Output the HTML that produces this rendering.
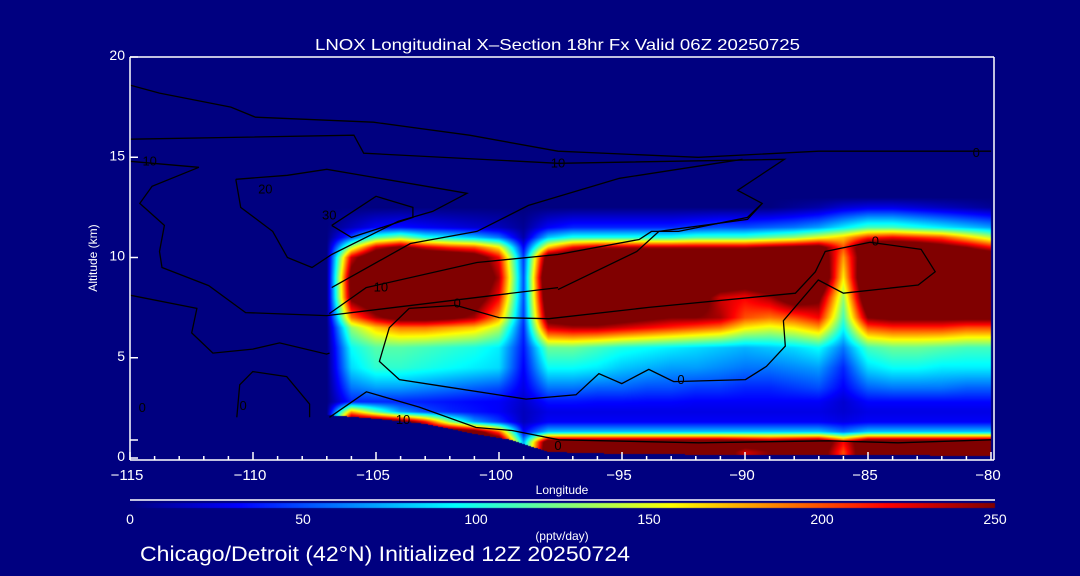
<!DOCTYPE html>
<html><head><meta charset="utf-8"><style>
html,body{margin:0;padding:0;background:rgb(0,0,128);width:1080px;height:576px;overflow:hidden}
#wrap{position:relative;width:1080px;height:576px}
canvas,svg{position:absolute;left:0;top:0}
text{font-family:"Liberation Sans",sans-serif;fill:#fff}
</style></head><body>
<div id="wrap">
<canvas id="cv" width="1080" height="576"></canvas>
<svg id="sv" width="1080" height="576">
<text x="315" y="50" font-size="16" textLength="485" lengthAdjust="spacingAndGlyphs">LNOX Longitudinal X–Section 18hr  Fx Valid 06Z 20250725</text>
<text x="562" y="494" font-size="12" text-anchor="middle">Longitude</text>
<text x="97" y="258" font-size="12" text-anchor="middle" transform="rotate(-90 97 258)">Altitude (km)</text>
<text x="562" y="540" font-size="12" text-anchor="middle">(pptv/day)</text>
<text x="140" y="561" font-size="21" textLength="490" lengthAdjust="spacingAndGlyphs">Chicago/Detroit (42°N) Initialized 12Z 20250724</text>
<g id="contours"></g>
<g id="axes"></g>
<g id="cbar"></g>
</svg>
</div>
<script>
// ---- data ----
const gridLons=[-107,-106,-105,-104,-103,-102,-101,-100,-99,-98,-97,-96,-95,-94,-93,-92,-91,-90,-89,-88,-87,-86,-85,-84,-83,-82,-81,-80];
const gridAlts=[0.3,0.8,1.3,1.8,2.3,2.8,3.5,4.5,5.5,6.5,7,8,9,10,10.5,11,11.5,12.5,13];
const row0_3=[0,300,300,300,300,300,300,300,90,300,300,300,300,300,300,300,280,230,250,280,280,200,300,300,300,300,300,300];
const row0_8=[0,300,300,300,300,300,300,300,70,290,290,290,290,290,290,290,290,280,270,280,290,220,290,290,290,290,290,290];
const row1_3=[0,300,300,300,300,300,280,200,30,80,80,80,80,80,80,80,80,80,80,80,80,60,80,80,80,80,80,80];
const row1_8=[0,300,300,280,220,130,70,45,15,30,30,30,30,30,30,30,30,30,30,30,30,25,30,30,30,30,30,30];
const row2_3=[0,180,120,70,50,40,35,30,15,25,25,25,25,25,25,25,25,25,25,25,25,20,25,25,25,25,25,25];
const row2_8=[0,40,40,40,38,35,32,30,18,35,35,33,33,32,32,30,30,30,30,30,30,20,32,32,32,32,32,32];
const row3_5=[0,60,70,70,65,60,55,50,25,60,60,55,55,50,50,45,45,40,40,45,50,30,55,60,60,60,55,55];
const row4_5=[0,85,105,105,100,95,90,85,30,95,95,90,80,75,70,70,65,60,60,65,70,40,85,95,95,90,90,90];
const row5_5=[0,95,115,115,110,105,100,90,35,120,120,110,100,95,90,85,80,75,80,85,95,60,110,120,120,115,110,110];
const row6_5=[0,130,170,190,190,180,170,140,40,230,240,240,230,220,210,200,190,160,150,160,180,95,200,210,210,210,200,200];
const row7=[0,190,240,270,270,260,240,180,45,270,280,280,270,260,250,250,240,200,190,200,220,110,250,260,260,260,260,260];
const row8=[0,260,300,300,300,300,280,220,50,300,300,300,300,300,300,280,230,220,240,280,260,130,300,300,300,300,300,300];
const row9=[0,270,320,320,320,320,300,240,50,320,320,320,320,320,320,320,300,290,300,320,320,160,320,320,320,320,320,320];
const row10=[0,230,300,300,300,300,280,220,45,280,300,300,300,300,300,300,300,300,300,300,300,180,300,300,300,300,300,300];
const row10_5=[0,140,230,260,230,210,200,160,30,170,220,240,240,240,240,240,240,240,250,260,270,200,300,300,290,270,250,220];
const row11=[0,50,110,130,100,90,80,60,10,80,100,100,100,100,100,110,110,110,120,130,150,170,210,220,210,200,170,140];
const row11_5=[0,15,30,35,30,25,20,15,5,30,40,40,40,40,40,45,50,50,55,60,70,90,110,110,100,90,80,70];
const row12_5=[0,0,0,0,0,0,0,0,0,0,0,0,0,0,0,0,0,0,0,5,10,20,25,25,20,15,10,5];
const row13=[0,0,0,0,0,0,0,0,0,0,0,0,0,0,0,0,0,0,0,0,0,0,0,0,0,0,0,0];
const rows=[row0_3,row0_8,row1_3,row1_8,row2_3,row2_8,row3_5,row4_5,row5_5,row6_5,row7,row8,row9,row10,row10_5,row11,row11_5,row12_5,row13];
const terrainLon=[-107,-105,-103,-101,-99.5,-99,-98,-95,-90,-85,-80];
const terrainAlt=[2.15,1.95,1.7,1.2,0.9,0.7,0.3,0.2,0.15,0.15,0.1];
const xTicks=[-115,-110,-105,-100,-95,-90,-85,-80];
const yTicks=[0,5,10,15,20];
const cbTicks=[0,50,100,150,200,250];
// contours: lon / alt arrays
const cA_lon=[-115,-113.8,-110.9,-109.9,-105.1,-101.2,-97.6,-91.9,-87.0,-80];
const cA_alt=[18.6,18.2,17.5,17.0,16.75,16.1,15.3,15.0,15.3,15.3];
const cB_lon=[-115,-105.9,-105.5,-97.6,-88.4,-90.3,-89.3,-89.9,-93.5,-94.4,-97.6];
const cB_alt=[15.9,16.1,15.2,14.7,14.9,13.35,12.7,11.9,11.3,10.3,8.4];
const cC_lon=[-115,-112.2,-114.1,-114.6,-113.6,-113.8,-113.7,-111.8,-110.3,-107.0,-97.6];
const cC_alt=[14.8,14.5,13.55,12.7,11.6,10.3,9.5,8.6,7.25,7.1,8.5];
const cD_lon=[-110.7,-108.6,-107.0,-102.0,-101.3,-102.7,-104.1,-106.8,-107.6,-108.6,-109.2,-110.5,-110.7];
const cD_alt=[13.9,14.1,14.4,13.35,13.2,12.3,11.8,10.15,9.5,10.0,11.3,12.5,13.9];
const cE_lon=[-106.8,-105.0,-103.5,-103.5,-106.0,-106.8];
const cE_alt=[11.6,13.05,12.5,12.0,11.0,11.6];
const cF_lon=[-106.8,-103.6,-100.9,-98.8,-95.1,-90.1];
const cF_alt=[8.5,10.7,11.3,12.6,13.95,14.9];
const cG_lon=[-106.9,-105.4,-100.9,-97.6,-94.3,-93.8,-92.7,-89.9,-89.3];
const cG_alt=[7.2,8.5,9.75,10.15,10.9,11.3,11.3,12.0,12.7];
const cH_lon=[-103.65,-101.74,-100.0,-97.97,-93.91,-87.95,-87.14,-86.74,-84.91,-82.84,-82.27,-82.96,-86.0,-87.02,-88.44,-88.36,-89.13,-89.98,-92.9,-93.91,-95.01,-95.94,-96.87,-98.9,-102.15,-104.05,-104.86,-104.46,-103.65];
const cH_alt=[7.46,7.61,7.0,6.95,7.51,8.22,9.29,10.3,10.76,10.41,9.29,8.63,8.22,8.88,6.85,5.58,4.57,3.91,3.81,4.42,3.71,4.21,3.15,2.94,3.55,3.91,4.82,6.5,7.46];
const cJ_lon=[-106.89,-105.39,-103.24,-100.93,-99.47,-97.56,-91.89,-86.61,-83.78,-80];
const cJ_alt=[2.03,3.3,2.54,1.52,1.37,0.91,0.76,0.86,0.76,0.91];
const cK_lon=[-110.66,-110.54,-110.01,-108.63,-107.70,-107.70];
const cK_alt=[2.03,3.65,4.31,4.06,2.69,2.03];
const cM_lon=[-115,-112.28,-112.49,-111.63,-110.01,-108.92,-107.01,-106.89];
const cM_alt=[8.12,7.46,6.24,5.23,5.43,5.74,5.18,5.23];
const cLabels=["10","20","30","10","0","10","0","0","0","0","10","0","0"];
const cLabLon=[-114.2,-109.5,-106.9,-104.8,-101.7,-103.9,-97.6,-92.6,-84.7,-80.6,-97.6,-114.5,-110.4];
const cLabAlt=[14.8,13.4,12.1,8.5,7.7,1.9,0.6,3.9,10.8,15.2,14.7,2.5,2.6];

// ---- axes ----
const X0=130,X1=991,Y0=458,Y1=57;
function xS(lon){return X0+(lon+115)/35*(X1-X0);}
function yS(alt){return Y0-(alt/20)*(Y0-Y1);}
function jet(v){let t=Math.max(0,Math.min(1,v/250));
 function c(x){return Math.max(0,Math.min(1,x));}
 const r=c(Math.min(4*t-1.5,-4*t+4.5)),g=c(Math.min(4*t-0.5,-4*t+3.5)),b=c(Math.min(4*t+0.5,-4*t+2.5));
 return [Math.round(r*255),Math.round(g*255),Math.round(b*255)];}
function interp(lon,alt){
 if(lon<=gridLons[0]||lon>gridLons[gridLons.length-1]+0.5)return 0;
 let i=Math.floor(lon-gridLons[0]);if(i>=gridLons.length-1)i=gridLons.length-2;
 let fx=Math.min(1,(lon-gridLons[i])/(gridLons[i+1]-gridLons[i]));
 let a=Math.max(gridAlts[0],Math.min(alt,gridAlts[gridAlts.length-1]));
 if(alt>gridAlts[gridAlts.length-1])return 0;
 let j=0;while(j<gridAlts.length-2&&a>gridAlts[j+1])j++;
 let fy=(a-gridAlts[j])/(gridAlts[j+1]-gridAlts[j]);
 const v00=rows[j][i],v10=rows[j][i+1],v01=rows[j+1][i],v11=rows[j+1][i+1];
 return (v00*(1-fx)+v10*fx)*(1-fy)+(v01*(1-fx)+v11*fx)*fy;}
function ground(lon){
 if(lon<terrainLon[0])return 99;
 for(let k=0;k<terrainLon.length-1;k++){if(lon<=terrainLon[k+1]){const f=(lon-terrainLon[k])/(terrainLon[k+1]-terrainLon[k]);return terrainAlt[k]*(1-f)+terrainAlt[k+1]*f;}}
 return terrainAlt[terrainAlt.length-1];}
const cv=document.getElementById('cv'),ctx=cv.getContext('2d');
ctx.fillStyle='rgb(0,0,128)';ctx.fillRect(0,0,1080,576);
const img=ctx.getImageData(0,0,1080,576),d=img.data;
for(let px=X0;px<X1;px++){const lon=-115+(px+0.5-X0)/(X1-X0)*35;const g=ground(lon);
 for(let py=Y1;py<Y0;py++){const alt=(Y0-(py+0.5))/(Y0-Y1)*20;
  let v=alt<g?0:interp(lon,alt);const c=jet(v);const o=(py*1080+px)*4;d[o]=c[0];d[o+1]=c[1];d[o+2]=c[2];d[o+3]=255;}}
// colorbar
for(let px=130;px<995;px++){const c=jet((px-130)/(995-130)*250);for(let py=503;py<508;py++){const o=(py*1080+px)*4;d[o]=c[0];d[o+1]=c[1];d[o+2]=c[2];}}
ctx.putImageData(img,0,0);

const NS='http://www.w3.org/2000/svg';
const cg=document.getElementById('contours');
const contourLon=[cA_lon,cB_lon,cC_lon,cD_lon,cE_lon,cF_lon,cG_lon,cH_lon,cJ_lon,cK_lon,cM_lon];
const contourAlt=[cA_alt,cB_alt,cC_alt,cD_alt,cE_alt,cF_alt,cG_alt,cH_alt,cJ_alt,cK_alt,cM_alt];
contourLon.forEach((L,k)=>{const p=document.createElementNS(NS,'polyline');
 p.setAttribute('points',L.map((lo,m)=>xS(lo).toFixed(1)+','+yS(contourAlt[k][m]).toFixed(1)).join(' '));
 p.setAttribute('fill','none');p.setAttribute('stroke','#000');p.setAttribute('stroke-width','1.3');
 
 
 cg.appendChild(p);});
cLabels.forEach((s,k)=>{const t=document.createElementNS(NS,'text');
 t.setAttribute('x',xS(cLabLon[k]));t.setAttribute('y',yS(cLabAlt[k])+4);t.setAttribute('font-size','13');
 t.setAttribute('text-anchor','middle');t.style.fill='#000';t.textContent=s;
 
 
 cg.appendChild(t);});

const ag=document.getElementById('axes');
function line(x1,y1,x2,y2,g,name){const l=document.createElementNS(NS,'line');l.setAttribute('x1',x1);l.setAttribute('y1',y1);l.setAttribute('x2',x2);l.setAttribute('y2',y2);l.setAttribute('stroke','#fff');l.setAttribute('stroke-width','1.5');
 
 
 g.appendChild(l);}
line(130,460,994,460,ag,'x-axis-line');
line(130,57,994,57,ag,'top-frame-line');
line(994,57,994,460,ag,'right-frame-line');
line(130,57,130,460,ag,'y-axis-line');
for(let lo=-115;lo<=-80;lo++){const major=xTicks.indexOf(lo)>=0;line(xS(lo),460,xS(lo),major?452:456,ag,'x-tick');}
xTicks.forEach(lo=>{const t=document.createElementNS(NS,'text');t.setAttribute('x',xS(lo)-3);t.setAttribute('y',480);t.setAttribute('font-size','15');t.setAttribute('text-anchor','middle');t.textContent=(lo<0?'−':'')+Math.abs(lo);
 
 
 ag.appendChild(t);});
yTicks.forEach(a=>{line(130,yS(a),138,yS(a),ag,'y-tick');const t=document.createElementNS(NS,'text');t.setAttribute('x',125);t.setAttribute('y',yS(a)+3);t.setAttribute('font-size','14');t.setAttribute('text-anchor','end');t.textContent=a;
 
 
 ag.appendChild(t);});
line(130,440,138,440,ag,'y-minor-tick');
const bg=document.getElementById('cbar');
line(130,500,995,500,bg,'colorbar-top-line');
cbTicks.forEach(v=>{const t=document.createElementNS(NS,'text');t.setAttribute('x',130+v/250*865);t.setAttribute('y',524);t.setAttribute('font-size','14');t.setAttribute('text-anchor','middle');t.textContent=v;
 
 
 bg.appendChild(t);});
</script>
</body></html>
